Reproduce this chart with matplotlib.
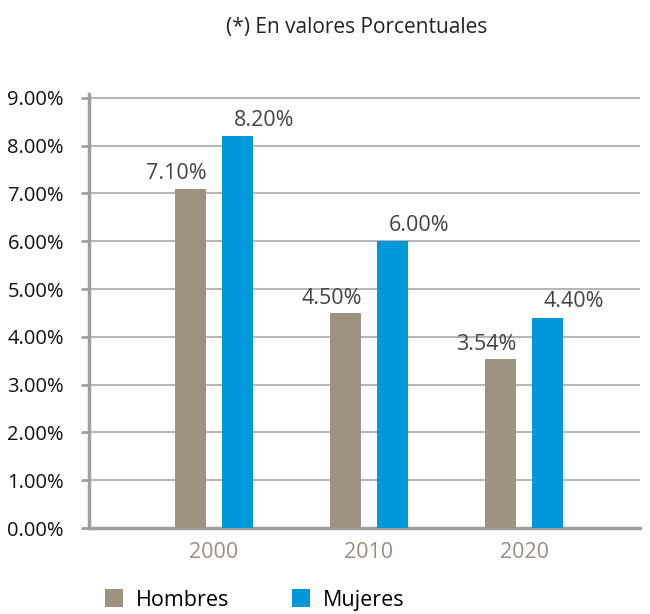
import matplotlib
matplotlib.use("Agg")
import matplotlib.pyplot as plt
import numpy as np

years = ["2000", "2010", "2020"]
hombres = [7.10, 4.50, 3.54]
mujeres = [8.20, 6.00, 4.40]
hombres_labels = ["7.10%", "4.50%", "3.54%"]
mujeres_labels = ["8.20%", "6.00%", "4.40%"]
yticks = [0, 1, 2, 3, 4, 5, 6, 7, 8, 9]

C_H = "#9e9281"
C_M = "#0098d8"
FONT = "Open Sans"
plt.rcParams["font.family"] = [FONT, "DejaVu Sans"]

fig = plt.figure(figsize=(6.5, 6.14), dpi=100)
ax = fig.add_axes([89/650, 1-528/614, (640-89)/650, (528-94)/614])

x = np.arange(len(years))
w = 0.2
off = 0.152
bh = ax.bar(x - off, hombres, w, color=C_H, label="Hombres", zorder=3)
bm = ax.bar(x + off, mujeres, w, color=C_M, label="Mujeres", zorder=3)

for xi, v, t in zip(x, hombres, hombres_labels):
    ax.annotate(t, (xi - off, v), xytext=(-10, 3), textcoords="offset points",
                ha="center", va="bottom", fontsize=15.5, color="#444444")
for xi, v, t in zip(x, mujeres, mujeres_labels):
    ax.annotate(t, (xi + off, v), xytext=(19, 4), textcoords="offset points",
                ha="center", va="bottom", fontsize=15.5, color="#444444")

ax.set_xlim(-0.806, 2.748)
ax.set_ylim(0, 9.08)
ax.set_yticks(yticks)
ax.set_yticklabels([f"{v:.2f}%" for v in yticks], fontsize=14.5, color="#111111")
ax.set_xticks(x)
ax.set_xticklabels(years, fontsize=15.5, color="#9b8f80")
ax.tick_params(axis="x", length=0, pad=10)
ax.tick_params(axis="y", length=6, width=2, color="#a0a0a0", pad=12)

ax.grid(axis="y", color="#b0b0b0", linewidth=1.3, zorder=0)
for s in ["top", "right"]:
    ax.spines[s].set_visible(False)
ax.spines["left"].set_color("#a0a0a0")
ax.spines["left"].set_linewidth(2.5)
ax.spines["bottom"].set_color("#a0a0a0")
ax.spines["bottom"].set_linewidth(2.5)

fig.text(357/650, 1-27/614, "(*) En valores Porcentuales", ha="center", va="center",
         fontsize=15, color="#222222")

fig.legend(handles=[bh, bm], labels=["Hombres", "Mujeres"], loc="center left",
           bbox_to_anchor=(105/650, 1-600/614), ncol=2, frameon=False,
           fontsize=15.5, handlelength=0.85, handleheight=0.85, columnspacing=2.9,
           handletextpad=0.6, borderpad=0, borderaxespad=0)

fig.savefig("out.png", dpi=100)
